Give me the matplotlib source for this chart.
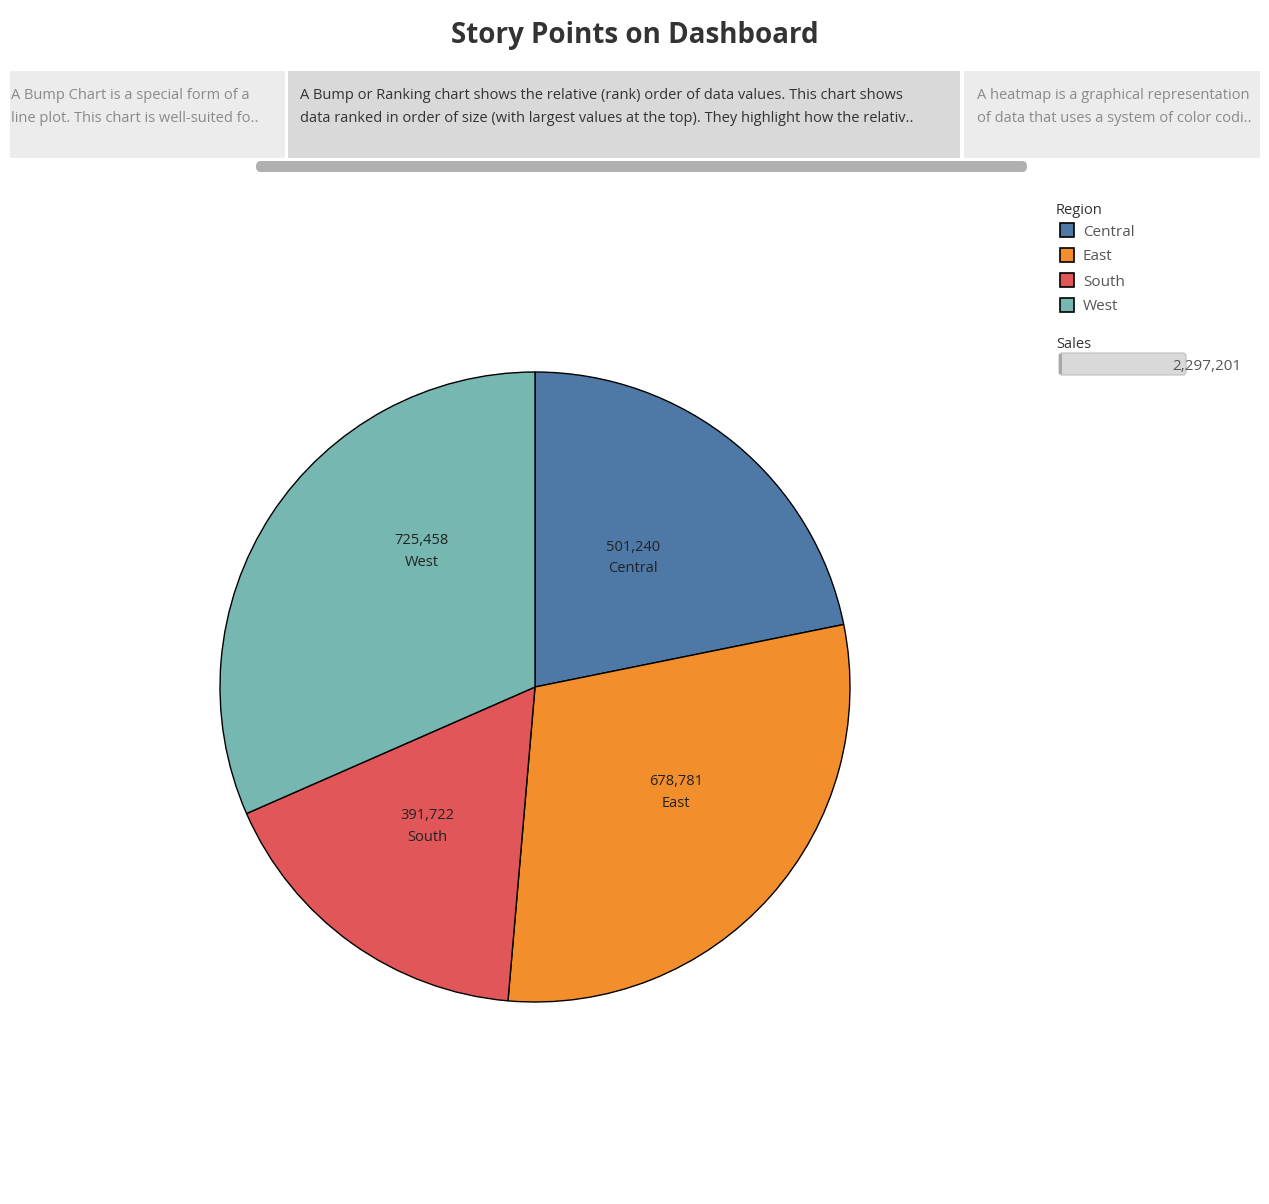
import matplotlib.pyplot as plt
import numpy as np
from matplotlib.patches import Rectangle, FancyBboxPatch

plt.rcParams['font.family'] = ['Open Sans', 'DejaVu Sans']

regions = ["Central", "East", "South", "West"]
sales = [501240, 678781, 391722, 725458]
colors = ["#4e79a7", "#f28e2b", "#e15759", "#76b7b2"]
total_label = "2,297,201"

story_texts = [
    "A Bump Chart is a special form of a\nline plot. This chart is well-suited fo..",
    "A Bump or Ranking chart shows the relative (rank) order of data values. This chart shows\n"
    "data ranked in order of size (with largest values at the top). They highlight how the relativ..",
    "A heatmap is a graphical representation\nof data that uses a system of color codi..",
]

W, H = 1269, 1204
fig = plt.figure(figsize=(W / 100, H / 100), dpi=100)

# overlay in pixel coords
ov = fig.add_axes([0, 0, 1, 1])
ov.set_xlim(0, W)
ov.set_ylim(H, 0)
ov.axis("off")

ov.text(635, 35, "Story Points on Dashboard", ha="center", va="center",
        fontsize=20, fontweight="bold", color="#333333")

# story point navigator
boxes = [(10, 285, 1, "#ececec", "#8a8a8a"), (288, 960, 12, "#d9d9d9", "#333333"),
         (964, 1260, 13, "#ececec", "#8a8a8a")]
for (x0, x1, pad, bg, fg), txt in zip(boxes, story_texts):
    ov.add_patch(Rectangle((x0, 71), x1 - x0, 87, facecolor=bg, edgecolor="none"))
    ov.text(x0 + pad, 88, txt, ha="left", va="top",
            fontsize=10.5, color=fg, linespacing=1.75)

ov.add_patch(FancyBboxPatch((256, 161), 771, 11, boxstyle="round,pad=0,rounding_size=5",
                            facecolor="#b0b0b0", edgecolor="none"))

# legend
ov.text(1056, 210, "Region", ha="left", va="center", fontsize=10.5, color="#333333")
for i, (r, c) in enumerate(zip(regions, colors)):
    y = 230 + i * 25
    ov.add_patch(Rectangle((1060, y - 7), 14, 14, facecolor=c, edgecolor="black", lw=1.2))
    ov.text(1083, y + 2, r, ha="left", va="center", fontsize=11, color="#555555")

ov.text(1056, 344, "Sales", ha="left", va="center", fontsize=10.5, color="#333333")
ov.add_patch(FancyBboxPatch((1059, 353), 127, 22, boxstyle="round,pad=0,rounding_size=3",
                            facecolor="#d9d9d9", edgecolor="#c0c0c0", lw=0.8))
ov.add_patch(Rectangle((1059, 354), 3, 20, facecolor="#a8a8a8", edgecolor="none"))
ov.text(1241, 366, total_label, ha="right", va="center", fontsize=11, color="#555555")

# pie
cx, cy, rad = 535, 687, 315
ax = fig.add_axes([(cx - rad) / W, (H - cy - rad) / H, 2 * rad / W, 2 * rad / H])
wedges, texts = ax.pie(sales, colors=colors, startangle=90, counterclock=False,
                       labels=[f"{v:,}\n{r}" for v, r in zip(sales, regions)],
                       labeldistance=0.56,
                       wedgeprops=dict(edgecolor="black", linewidth=1))
# nudge label angles (degrees) and distances to sit like the original
nudge = [2, 5, -2, -17]
dist = [0.515, 0.56, 0.56, 0.56]
for t, w, d, r in zip(texts, wedges, nudge, dist):
    ang = np.deg2rad((w.theta1 + w.theta2) / 2 + d)
    t.set_position((r * np.cos(ang), r * np.sin(ang)))
    t.set_ha("center")
    t.set_va("center")
    t.set_fontsize(10.5)
    t.set_color("#222222")
    t.set_linespacing(1.6)
ax.set_xlim(-1, 1)
ax.set_ylim(-1, 1)
ax.set_aspect("equal")

fig.savefig("out.png", dpi=100)
